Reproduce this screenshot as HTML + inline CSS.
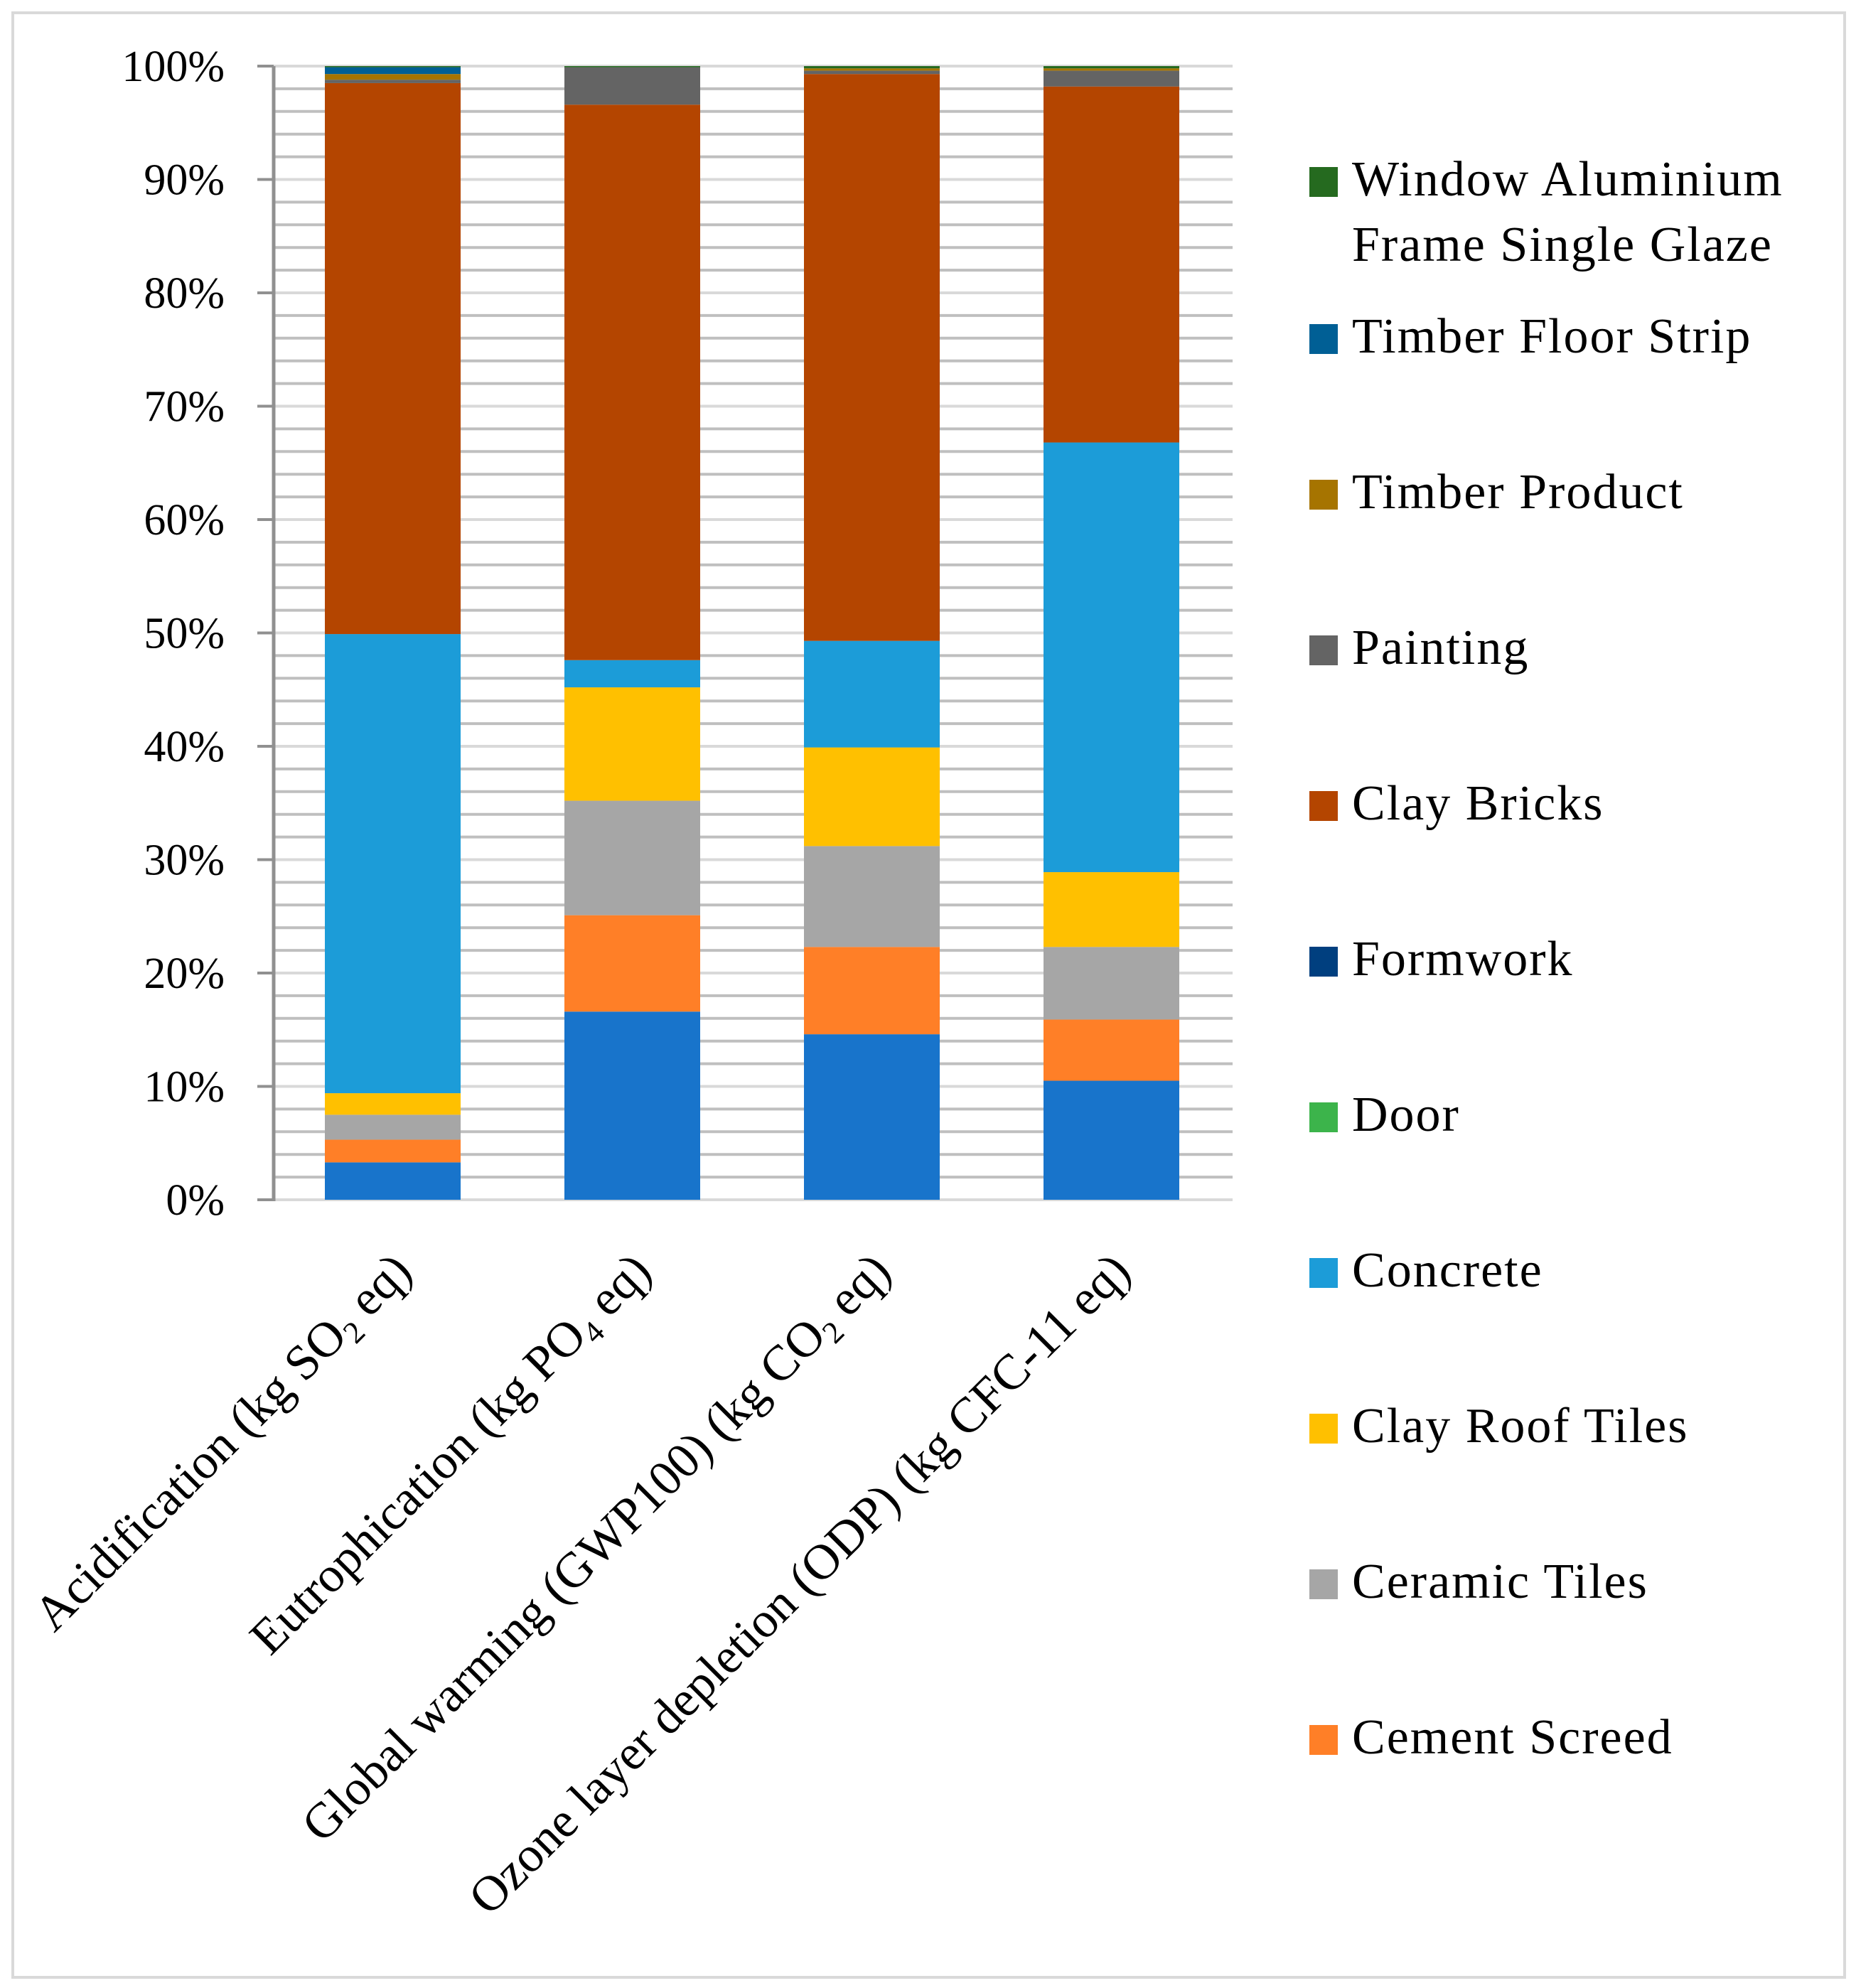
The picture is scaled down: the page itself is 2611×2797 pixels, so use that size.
<!DOCTYPE html>
<html><head><meta charset="utf-8"><style>
html,body{margin:0;padding:0;background:#fff;}
svg{display:block;}
text{font-family:"Liberation Serif",serif;fill:#000;}
</style></head><body>
<svg id="chart" width="2611" height="2797" viewBox="0 0 2611 2797" xmlns="http://www.w3.org/2000/svg">
<rect x="18" y="18" width="2577" height="2764" fill="#fff" stroke="#d9d9d9" stroke-width="4"/>
<g id="grid"></g><g id="bars"></g><g id="axis"></g><g id="xlabels"></g><g id="legend"></g>
</svg>
<script>
const categories = ["Acidification","Eutrophication","Global warming","Ozone layer depletion"];
const seriesNames = ["Other","Cement Screed","Ceramic Tiles","Clay Roof Tiles","Concrete","Door","Formwork","Clay Bricks","Painting","Timber Product","Timber Floor Strip","Window Aluminium Frame Single Glaze"];
const seriesColors = ["#1874cb","#ff7f27","#a6a6a6","#ffc000","#1c9cd8","#3cb44b","#003f7f","#b44500","#646464","#a67400","#005f95","#256a1f"];
const valuesOther = [3.3,16.6,14.6,10.5];
const valuesCementScreed = [2.0,8.5,7.7,5.4];
const valuesCeramicTiles = [2.2,10.1,8.9,6.4];
const valuesClayRoofTiles = [1.9,10.0,8.7,6.6];
const valuesConcrete = [40.5,2.4,9.4,37.9];
const valuesDoor = [0,0,0,0];
const valuesFormwork = [0,0,0,0];
const valuesClayBricks = [48.6,49.0,50.0,31.4];
const valuesPainting = [0.3,3.3,0.3,1.4];
const valuesTimberProduct = [0.5,0,0.2,0.2];
const valuesTimberFloorStrip = [0.6,0,0,0];
const valuesWindow = [0.1,0.1,0.2,0.2];
const allSeries = [valuesOther,valuesCementScreed,valuesCeramicTiles,valuesClayRoofTiles,valuesConcrete,valuesDoor,valuesFormwork,valuesClayBricks,valuesPainting,valuesTimberProduct,valuesTimberFloorStrip,valuesWindow];
const yTicks = ["0%","10%","20%","30%","40%","50%","60%","70%","80%","90%","100%"];
const legendOrder = [11,10,9,8,7,6,5,4,3,2,1];

const NS="http://www.w3.org/2000/svg";
const X0=385, X1=1734, Y0=1688, Y100=93;
const yScale = v => Y0 - (Y0-Y100)*v/100;
const barW=191, barStart=457, pitch=337;
const xScale = i => barStart + i*pitch;
function mk(tag, attrs, parent){const e=document.createElementNS(NS,tag);for(const k in attrs)e.setAttribute(k,attrs[k]);parent.appendChild(e);return e;}

const grid=document.getElementById('grid');
for(let p=0;p<=100;p+=2){
  const ln=mk('line',{x1:X0,x2:X1,y1:yScale(p),y2:yScale(p),stroke:(p%10===0)?'#d9d9d9':'#bfbfbf','stroke-width':4},grid);
  
  
}
const bars=document.getElementById('bars');
categories.forEach((c,i)=>{
  let cum=0;
  allSeries.forEach((s,k)=>{
    const v=s[i]; if(v<=0) return;
    const r=mk('rect',{x:xScale(i),y:yScale(cum+v),width:barW,height:yScale(cum)-yScale(cum+v),fill:seriesColors[k]},bars);
    
    
    cum+=v;
  });
});
const axis=document.getElementById('axis');
const ax=mk('line',{x1:X0,x2:X0,y1:Y100,y2:Y0+2,stroke:'#909090','stroke-width':5},axis);


yTicks.forEach((t,i)=>{
  const y=yScale(i*10);
  const tk=mk('line',{x1:362,x2:X0,y1:y,y2:y,stroke:'#909090','stroke-width':4},axis);
  
  
  const tx=mk('text',{x:316,y:y+21,'text-anchor':'end','font-size':62},axis);
  tx.textContent=t;
  
  
});
</script>
<script>
const xl=document.getElementById('xlabels');
const labelParts=[
 [["Acidification (kg SO",0],["2",1],[" eq)",0]],
 [["Eutrophication (kg PO",0],["4",1],[" eq)",0]],
 [["Global warming (GWP100) (kg CO",0],["2",1],[" eq)",0]],
 [["Ozone layer depletion (ODP) (kg CFC-11 eq)",0]]
];
labelParts.forEach((parts,i)=>{
  const cx=xScale(i)+barW/2+30, cy=1792;
  const t=mk('text',{x:cx,y:cy,'text-anchor':'end','font-size':70,transform:`rotate(-45 ${cx} ${cy})`},xl);
  
  
  parts.forEach(p=>{
    const ts=mk('tspan',p[1]?{'font-size':44,dy:13}:{dy:0},t);
    ts.textContent=p[0];
    if(p[1]){ts.setAttribute('data-sub','1');}
  });
  const spans=t.querySelectorAll('tspan');
  spans.forEach((s,j)=>{ if(j>0 && spans[j-1].getAttribute('data-sub')) s.setAttribute('dy',-13); });
});
const lg=document.getElementById('legend');
legendOrder.forEach((k,j)=>{
  const base = j===0 ? 275 : 496 + (j-1)*219;
  const m=mk('rect',{x:1842,y:base-40,width:40,height:42,fill:seriesColors[k]},lg);
  
  
  const st={'font-size':70,'letter-spacing':2};
  if(j===0){
    const t1=mk('text',Object.assign({x:1902,y:275},st),lg);
    t1.textContent="Window Aluminium";
    
    
    const t2=mk('text',Object.assign({x:1902,y:367},st),lg);
    t2.textContent="Frame Single Glaze";
    
    
  } else {
    const t=mk('text',Object.assign({x:1902,y:base},st),lg);
    t.textContent=seriesNames[k];
    
    
  }
});
</script>
</body></html>
